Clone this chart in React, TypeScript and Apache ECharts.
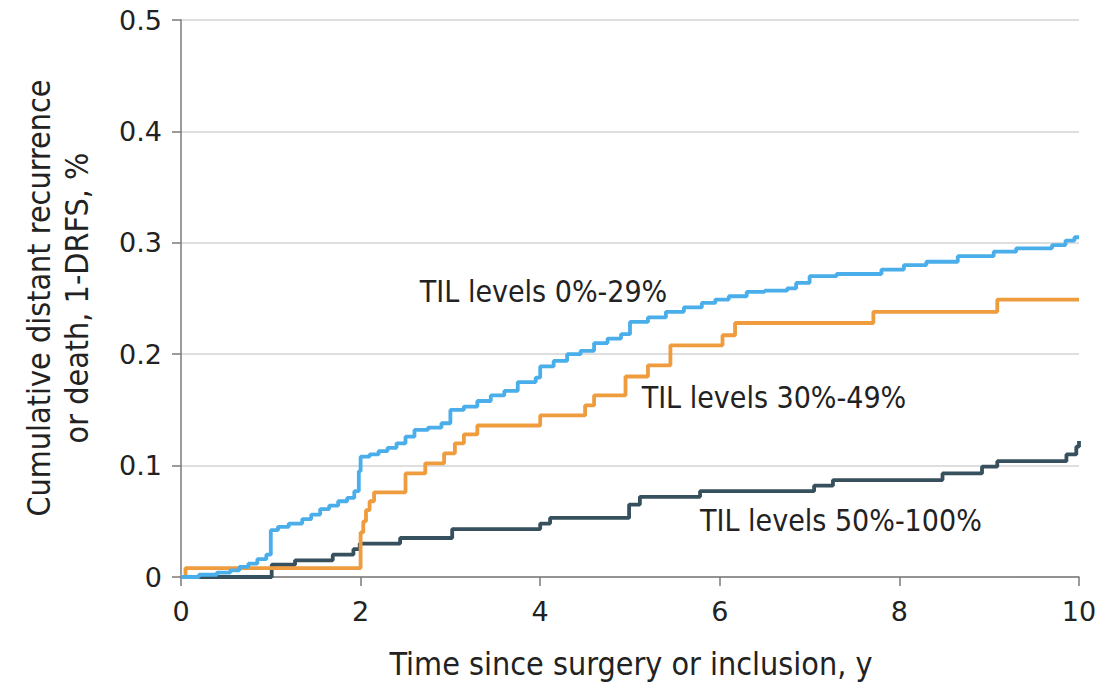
import React, { useEffect, useRef } from "react";
import * as echarts from "echarts";

// Cumulative incidence (1 - DRFS) by TIL level, step curves [years, proportion]
const tilLow: [number, number][] = [
  [0, 0], [0.2, 0.002], [0.4, 0.004], [0.55, 0.006], [0.65, 0.009], [0.75, 0.012],
  [0.85, 0.016], [0.95, 0.02], [1.0, 0.042], [1.08, 0.045], [1.2, 0.048], [1.35, 0.052],
  [1.45, 0.056], [1.55, 0.061], [1.65, 0.064], [1.75, 0.068], [1.85, 0.071], [1.93, 0.077],
  [1.98, 0.095], [2.0, 0.108], [2.1, 0.11], [2.2, 0.113], [2.3, 0.116], [2.4, 0.12],
  [2.5, 0.126], [2.6, 0.132], [2.75, 0.134], [2.9, 0.138], [3.0, 0.15], [3.15, 0.153],
  [3.3, 0.158], [3.45, 0.163], [3.6, 0.167], [3.75, 0.175], [3.95, 0.179], [4.0, 0.189],
  [4.15, 0.194], [4.3, 0.2], [4.45, 0.203], [4.6, 0.21], [4.75, 0.214], [4.9, 0.218],
  [5.0, 0.229], [5.2, 0.233], [5.4, 0.238], [5.6, 0.242], [5.8, 0.246], [5.95, 0.249],
  [6.1, 0.252], [6.3, 0.256], [6.5, 0.257], [6.75, 0.259], [6.85, 0.264], [7.0, 0.27],
  [7.3, 0.272], [7.8, 0.276], [8.05, 0.28], [8.3, 0.283], [8.65, 0.288], [9.05, 0.292],
  [9.3, 0.295], [9.7, 0.298], [9.85, 0.302], [9.95, 0.305], [10, 0.305],
];

const tilMid: [number, number][] = [
  [0, 0], [0.05, 0.008], [1.99, 0.008], [2.0, 0.04], [2.03, 0.05], [2.06, 0.06],
  [2.1, 0.068], [2.15, 0.076], [2.5, 0.093], [2.72, 0.102], [2.93, 0.111], [3.05, 0.12],
  [3.15, 0.128], [3.3, 0.136], [4.0, 0.145], [4.5, 0.154], [4.6, 0.163], [4.95, 0.18],
  [5.2, 0.19], [5.45, 0.208], [6.03, 0.217], [6.17, 0.228], [7.71, 0.238], [9.09, 0.249],
  [10, 0.249],
];

const tilHigh: [number, number][] = [
  [0, 0], [1.01, 0.011], [1.27, 0.015], [1.69, 0.02], [1.92, 0.025], [1.99, 0.03],
  [2.44, 0.035], [3.02, 0.043], [4.0, 0.048], [4.11, 0.053], [4.99, 0.065], [5.11, 0.072],
  [5.78, 0.077], [7.05, 0.082], [7.26, 0.087], [8.48, 0.093], [8.92, 0.099], [9.09, 0.104],
  [9.86, 0.11], [9.97, 0.117], [10, 0.122],
];

const seriesNames = ["TIL levels 0%-29%", "TIL levels 30%-49%", "TIL levels 50%-100%"];
const seriesColors = ["#4aaeea", "#ee9c3e", "#37505e"];
// Label anchors in data space [years, proportion] (left edge, vertical middle)
const labelAnchors: [number, number][] = [[2.66, 0.256], [5.13, 0.161], [5.78, 0.051]];

const xTitle = "Time since surgery or inclusion, y";
const yTitle = "Cumulative distant recurrence\nor death, 1-DRFS, %";

const condensed = '"DejaVu Sans Condensed", "Liberation Sans Narrow", "DejaVu Sans", sans-serif';
const tickFont = '"DejaVu Sans", sans-serif';

export default function App() {
  const ref = useRef<HTMLDivElement>(null);

  useEffect(() => {
    if (!ref.current) return;
    const chart = echarts.init(ref.current, undefined, { renderer: "svg" });
    const data = [tilLow, tilMid, tilHigh];

    chart.setOption({
      animation: false,
      backgroundColor: "#ffffff",
      grid: { left: 181, top: 20, width: 898, height: 557, containLabel: false },
      xAxis: {
        type: "value",
        min: 0,
        max: 10,
        interval: 2,
        axisLine: { show: true, lineStyle: { color: "#7a7a7a", width: 1.5 } },
        axisTick: { show: true, length: 9, lineStyle: { color: "#7a7a7a", width: 1.5 } },
        axisLabel: { fontFamily: tickFont, fontSize: 27, color: "#222", margin: 21 },
        splitLine: { show: false },
      },
      yAxis: {
        type: "value",
        min: 0,
        max: 0.5,
        interval: 0.1,
        axisLine: { show: true, lineStyle: { color: "#7a7a7a", width: 1.5 } },
        axisTick: { show: true, length: 9, lineStyle: { color: "#7a7a7a", width: 1.5 } },
        axisLabel: {
          fontFamily: tickFont,
          fontSize: 27,
          color: "#222",
          margin: 19,
          formatter: (v: number) => (v === 0 ? "0" : v.toFixed(1)),
        },
        splitLine: { show: true, lineStyle: { color: "#dedede", width: 2 } },
      },
      series: data.map((d, i) => ({
        type: "line",
        name: seriesNames[i],
        step: "end",
        data: d,
        showSymbol: false,
        symbol: "none",
        z: 3 - i,
        lineStyle: { color: seriesColors[i], width: 3.8 },
        itemStyle: { color: seriesColors[i] },
      })),
    });

    const labels = labelAnchors.map((a, i) => {
      const [px, py] = chart.convertToPixel({ gridIndex: 0 }, a) as number[];
      return {
        type: "text",
        x: px,
        y: py,
        style: {
          text: seriesNames[i],
          fontFamily: condensed,
          fontSize: 30,
          fill: "#222",
          align: "left",
          verticalAlign: "middle",
        },
      };
    });

    chart.setOption({
      graphic: [
        ...labels,
        {
          type: "text",
          x: 631,
          y: 664,
          style: {
            text: xTitle,
            fontFamily: condensed,
            fontSize: 32,
            fill: "#222",
            align: "center",
            verticalAlign: "middle",
          },
        },
        {
          type: "text",
          x: 58,
          y: 298,
          rotation: Math.PI / 2,
          style: {
            text: yTitle,
            fontFamily: condensed,
            fontSize: 32,
            lineHeight: 38,
            fill: "#222",
            align: "center",
            verticalAlign: "middle",
          },
        },
      ],
    });

    return () => chart.dispose();
  }, []);

  return (
    <div
      ref={ref}
      style={{ position: "absolute", left: 0, top: 0, width: 1118, height: 682 }}
    />
  );
}
